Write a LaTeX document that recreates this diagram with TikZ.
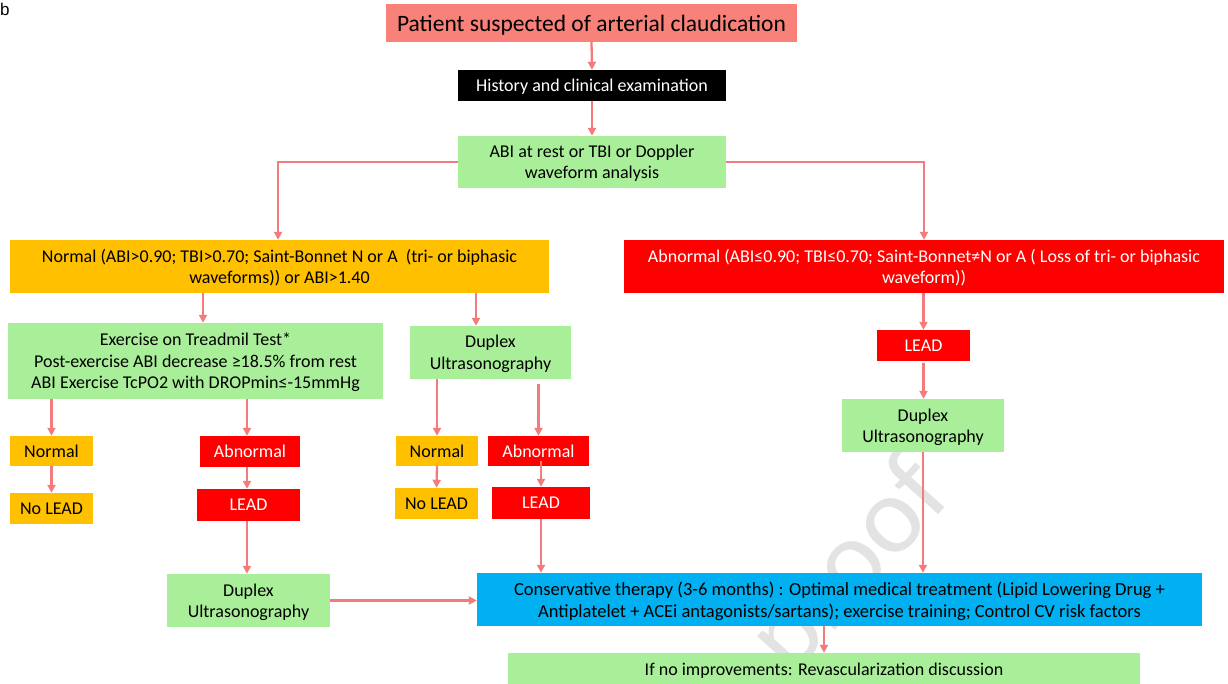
\documentclass[tikz,border=0pt]{standalone}
\usepackage{fontspec}
\setmainfont{Carlito}
\newfontfamily\labfont{Liberation Sans}
\usetikzlibrary{arrows.meta}
\definecolor{cSalmon}{HTML}{F8827A}
\definecolor{cGreen}{HTML}{A9EF9A}
\definecolor{cOrange}{HTML}{FFC000}
\definecolor{cRed}{HTML}{FF0000}
\definecolor{cBlue}{HTML}{00B0F0}
\definecolor{cArrow}{HTML}{F47B7B}
\tikzset{
  box/.style={draw=none, align=center, inner sep=0pt, text depth=0pt, font=\fontsize{18}{21.5}\selectfont, text=black},
  gbox/.style={box, fill=cGreen},
  obox/.style={box, fill=cOrange},
  rbox/.style={box, fill=cRed, text=white},
  arr/.style={draw=cArrow, line width=2.3pt, -{Triangle[length=8pt,width=8pt]}},
}
\begin{document}
\begin{tikzpicture}[x=1pt,y=-1pt]
\useasboundingbox (0,0) rectangle (1228,684);
\begin{scope}
\clip (0,0) rectangle (1228,684);
% watermark
\node[text=black!11, rotate=48, font=\fontsize{110}{110}\selectfont] (wm) at (852,568) {proof};

\node[box, fill=cSalmon, minimum width=411pt, minimum height=38pt, font=\fontsize{23.5}{26}\selectfont] (title) at (591.5,23) {Patient suspected of arterial claudication};
\node[box, fill=black, text=white, minimum width=268pt, minimum height=31pt] (hist) at (592,85.5) {History and clinical examination};
\node[gbox, minimum width=268pt, minimum height=52pt] (abi) at (592,162) {ABI at rest or TBI or Doppler\\waveform analysis};
\node[obox, minimum width=539pt, minimum height=53pt] (normal) at (279.5,266.5) {Normal (ABI\textgreater0.90; TBI\textgreater0.70; Saint-Bonnet N or A\ \ (tri- or biphasic\\waveforms)) or ABI\textgreater1.40};
\node[rbox, minimum width=600pt, minimum height=53pt] (abn) at (924,266.5) {Abnormal (ABI≤0.90; TBI≤0.70; Saint-Bonnet≠N or A ( Loss of tri- or biphasic\\waveform))};
\node[gbox, minimum width=375pt, minimum height=76pt] (ex) at (195.5,361) {Exercise on Treadmil Test*\\Post-exercise ABI decrease ≥18.5\% from rest\\ABI Exercise TcPO2 with DROPmin≤-15mmHg};
\node[gbox, minimum width=161pt, minimum height=53pt] (dupM) at (490.5,352.5) {Duplex\\Ultrasonography};
\node[obox, minimum width=83pt, minimum height=30pt] (n1) at (51.5,451) {Normal};
\node[rbox, minimum width=100pt, minimum height=31pt] (a1) at (250,451.5) {Abnormal};
\node[obox, minimum width=83pt, minimum height=31pt] (nl1) at (51.5,508.5) {No LEAD};
\node[rbox, minimum width=103pt, minimum height=32pt] (l1) at (248.5,505) {LEAD};
\node[gbox, minimum width=163pt, minimum height=53pt] (dupL) at (248.5,600.5) {Duplex\\Ultrasonography};
\node[obox, minimum width=82pt, minimum height=30pt] (n2) at (437,451) {Normal};
\node[rbox, minimum width=101pt, minimum height=30pt] (a2) at (538.5,451) {Abnormal};
\node[obox, minimum width=83pt, minimum height=31pt] (nl2) at (436.5,503.5) {No LEAD};
\node[rbox, minimum width=98pt, minimum height=32pt] (l2) at (541,503) {LEAD};
\node[box, fill=cBlue, minimum width=725pt, minimum height=53pt, font=\fontsize{18.5}{21.5}\selectfont] (cons) at (839.5,599.5) {Conservative therapy (3-6 months) : Optimal medical treatment (Lipid Lowering Drug +\\Antiplatelet + ACEi antagonists/sartans); exercise training; Control CV risk factors};
\node[rbox, minimum width=93pt, minimum height=31pt] (l3) at (923.5,345.5) {LEAD};
\node[gbox, minimum width=162pt, minimum height=53pt] (dupR) at (923,425.5) {Duplex\\Ultrasonography};
\node[gbox, minimum width=632pt, minimum height=32pt] (ifno) at (824,669) {If no improvements: Revascularization discussion};

\node[anchor=north west, inner sep=0pt, font=\labfont\fontsize{17}{17}\selectfont] (lab) at (0,3) {b};

% connectors
\draw[arr] (title.south) -- (hist.north);
\draw[arr] (hist.south) -- (abi.north);
\coordinate (nl) at ([xshift=-1.5pt]normal.north);
\draw[arr] (abi.west) -| (nl);
\draw[arr] (abi.east) -| (abn.north);
\coordinate (p1) at ([xshift=-76.5pt]normal.south);
\draw[arr] (p1) -- (p1 |- ex.north);
\coordinate (p2) at ([xshift=196.5pt]normal.south);
\draw[arr] (p2) -- (p2 |- dupM.north);
\draw[arr] (n1.north |- ex.south) -- (n1.north);
\coordinate (p3) at ([xshift=-3pt]a1.north);
\draw[arr] (p3 |- ex.south) -- (p3);
\draw[arr] (n1.south) -- (nl1.north);
\draw[arr] (p3 |- a1.south) -- (p3 |- l1.north);
\draw[arr] (p3 |- l1.south) -- (p3 |- dupL.north);
\draw[arr] (dupL.east) -- (dupL.east -| cons.west);
\draw[arr] (n2.north |- dupM.south) -- (n2.north);
\coordinate (p4) at ([yshift=-5pt]a2.north |- dupM.south);
\draw[arr] (p4) -- (a2.north);
\draw[arr] (n2.south) -- (nl2.north);
\coordinate (p5) at ([yshift=5pt]l2.north |- a2.south);
\draw[arr] (p5) -- (l2.north);
\draw[arr] (l2.south) -- (l2.south |- cons.north);
\draw[arr] (l3.north |- abn.south) -- (l3.north);
\coordinate (p6) at ([yshift=-2pt]l3.south);
\draw[arr] (p6) -- (p6 |- dupR.north);
\draw[arr] (dupR.south) -- (dupR.south |- cons.north);
\draw[arr] (ifno.north |- cons.south) -- (ifno.north);
\end{scope}
\end{tikzpicture}
\end{document}
